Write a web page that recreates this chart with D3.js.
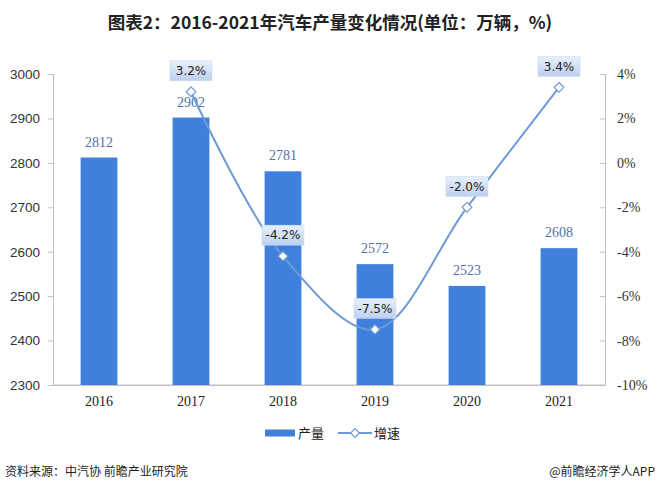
<!DOCTYPE html>
<html>
<head>
<meta charset="utf-8">
<script src="https://cdn.jsdelivr.net/npm/d3@7"></script>
<style>
  body { margin: 0; background: #fff; }
  svg { display: block; }
</style>
</head>
<body>
<svg width="660" height="493"></svg>
<script>
var years = ["2016", "2017", "2018", "2019", "2020", "2021"];
var output = [2812, 2902, 2781, 2572, 2523, 2608];
var growth = [null, 3.2, -4.2, -7.5, -2.0, 3.4];
var leftTicks = [2300, 2400, 2500, 2600, 2700, 2800, 2900, 3000];
var rightTicks = [-10, -8, -6, -4, -2, 0, 2, 4];

var svg = d3.select("svg"),
    width = +svg.attr("width"),
    height = +svg.attr("height");

var plotLeft = 53, plotRight = 605, plotTop = 74, plotBottom = 385;

var x = d3.scaleBand().domain(years).range([plotLeft, plotRight]).paddingInner(0.6).paddingOuter(0.3);
var xc = function(d) { return x(d) + x.bandwidth() / 2; };
var yL = d3.scaleLinear().domain([2300, 3000]).range([plotBottom, plotTop]);
var yR = d3.scaleLinear().domain([-10, 4]).range([plotBottom, plotTop]);

var defs = svg.append("defs");
var grad = defs.append("linearGradient").attr("id", "lbl").attr("x1", 0).attr("y1", 0).attr("x2", 0).attr("y2", 1);
grad.append("stop").attr("offset", "0%").attr("stop-color", "#e9f0fb");
grad.append("stop").attr("offset", "100%").attr("stop-color", "#bcd0ee");

// title
svg.append("text")
    .attr("x", width / 2).attr("y", 29)
    .attr("text-anchor", "middle")
    .style("font-family", "'Noto Sans CJK SC', sans-serif")
    .style("font-size", "17.5px").style("font-weight", "bold").style("fill", "#222")
    .text("图表2：2016-2021年汽车产量变化情况(单位：万辆，%)");

// axes
var axisL = svg.append("g").attr("transform", "translate(" + plotLeft + ",0)")
    .call(d3.axisLeft(yL).tickValues(leftTicks).tickSize(5).tickPadding(8).tickFormat(d3.format("d")));
var axisR = svg.append("g").attr("transform", "translate(" + plotRight + ",0)")
    .call(d3.axisRight(yR).tickValues(rightTicks).tickSize(-5).tickPadding(12).tickFormat(function(d) { return d + "%"; }));
var axisB = svg.append("g").attr("transform", "translate(0," + plotBottom + ")")
    .call(d3.axisBottom(x).tickSize(0).tickPadding(11));
[axisL, axisR, axisB].forEach(function(a) {
  a.selectAll(".domain").attr("stroke", "#bfbfbf");
  a.selectAll(".tick line").attr("stroke", "#bfbfbf");
  a.selectAll(".tick text").attr("fill", "#333")
      .style("font-family", "'Liberation Serif', serif").style("font-size", "14px");
});
axisL.selectAll(".tick text").style("font-family", "'Liberation Sans', Arial, sans-serif").style("font-size", "13.5px");
axisB.selectAll(".tick text").attr("fill", "#222");
svg.append("line").attr("x1", plotLeft).attr("x2", plotRight).attr("y1", plotBottom).attr("y2", plotBottom).attr("stroke", "#bfbfbf");

// bars
svg.selectAll(".bar").data(output).enter().append("rect")
    .attr("class", "bar")
    .attr("x", function(d, i) { return x(years[i]); })
    .attr("y", function(d) { return yL(d); })
    .attr("width", x.bandwidth())
    .attr("height", function(d) { return plotBottom - yL(d); })
    .attr("fill", "#3f80dc");

svg.selectAll(".barlbl").data(output).enter().append("text")
    .attr("x", function(d, i) { return xc(years[i]); })
    .attr("y", function(d) { return yL(d) - 11; })
    .attr("text-anchor", "middle")
    .style("font-family", "'Liberation Serif', serif")
    .style("font-size", "14px").style("fill", "#4f72a8")
    .text(function(d) { return d; });

// growth line
var pts = growth.map(function(g, i) { return { year: years[i], v: g }; }).filter(function(d) { return d.v !== null; });
var line = d3.line()
    .x(function(d) { return xc(d.year); })
    .y(function(d) { return yR(d.v); })
    .curve(d3.curveCatmullRom.alpha(0.5));
svg.append("path").datum(pts).attr("d", line)
    .attr("fill", "none").attr("stroke", "#6e9ad6").attr("stroke-width", 2);

svg.selectAll(".mk").data(pts).enter().append("path")
    .attr("d", d3.symbol().type(d3.symbolDiamond2).size(60))
    .attr("transform", function(d) { return "translate(" + xc(d.year) + "," + yR(d.v) + ")"; })
    .attr("fill", "#fff").attr("stroke", "#6e9ad6").attr("stroke-width", 1.2);

var lbl = svg.selectAll(".glbl").data(pts).enter().append("g")
    .attr("transform", function(d) { return "translate(" + xc(d.year) + "," + (yR(d.v) - 21) + ")"; });
lbl.append("rect")
    .attr("x", -21).attr("y", -10).attr("width", 42).attr("height", 20)
    .attr("fill", "url(#lbl)").attr("stroke", "#c8d8f0").attr("stroke-width", 0.5);
lbl.append("text")
    .attr("text-anchor", "middle").attr("dy", "0.36em")
    .style("font-family", "'DejaVu Sans', sans-serif")
    .style("font-size", "12px").style("fill", "#222")
    .text(function(d) { return d.v.toFixed(1) + "%"; });

// legend
var lg = svg.append("g").attr("transform", "translate(0,433)");
lg.append("rect").attr("x", 265).attr("y", -3.5).attr("width", 30).attr("height", 7).attr("fill", "#3f80dc");
lg.append("text").attr("x", 298).attr("y", 0).attr("dy", "0.36em")
    .style("font-family", "'Noto Sans CJK SC', sans-serif").style("font-size", "13px").style("fill", "#222")
    .text("产量");
lg.append("line").attr("x1", 338).attr("x2", 372).attr("y1", 0).attr("y2", 0)
    .attr("stroke", "#6e9ad6").attr("stroke-width", 2);
lg.append("path").attr("d", d3.symbol().type(d3.symbolDiamond2).size(50))
    .attr("transform", "translate(355,0)")
    .attr("fill", "#fff").attr("stroke", "#6e9ad6").attr("stroke-width", 1.2);
lg.append("text").attr("x", 374).attr("y", 0).attr("dy", "0.36em")
    .style("font-family", "'Noto Sans CJK SC', sans-serif").style("font-size", "13px").style("fill", "#222")
    .text("增速");

// footer
svg.append("text").attr("x", 5).attr("y", 476)
    .style("font-family", "'Noto Sans CJK SC', sans-serif").style("font-size", "12px").style("fill", "#222")
    .text("资料来源：中汽协 前瞻产业研究院");
svg.append("text").attr("x", 655).attr("y", 476).attr("text-anchor", "end")
    .style("font-family", "'Noto Sans CJK SC', sans-serif").style("font-size", "12px").style("fill", "#222")
    .text("@前瞻经济学人APP");
</script>
</body>
</html>
